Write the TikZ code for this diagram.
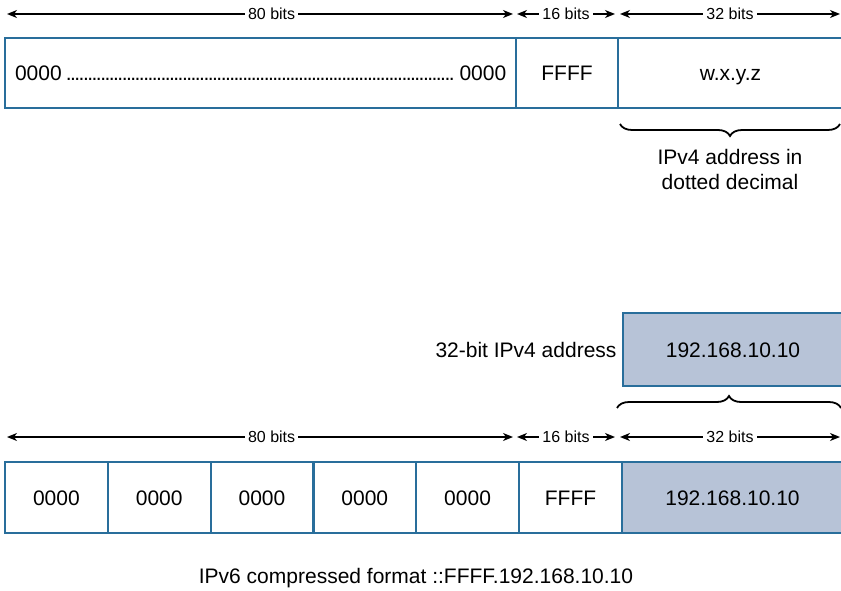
\documentclass[tikz,border=0pt]{standalone}
\usepackage{fontspec}
\setmainfont{Liberation Sans}
\usetikzlibrary{arrows.meta,positioning,decorations.pathreplacing}
\definecolor{cellblue}{RGB}{41,110,155}
\definecolor{vfourfill}{RGB}{183,195,215}
\tikzset{
  cell/.style={draw=cellblue,line width=2.2pt,minimum height=70pt,inner sep=0pt,outer sep=0pt,anchor=north west,
    text height=15pt,text depth=0pt,font=\fontsize{21}{25}\selectfont},
  dim/.style={{Stealth[length=10pt,width=8pt,inset=3pt]}-{Stealth[length=10pt,width=8pt,inset=3pt]},line width=1.5pt},
  bits/.style={fill=white,inner sep=3pt,font=\fontsize{16}{19}\selectfont},
  brc/.style={decorate,decoration={brace,amplitude=12pt},line width=1.8pt},
  txt/.style={font=\fontsize{21}{25}\selectfont}
}
\newcommand{\dotrow}{\leaders\hbox to 4.3pt{\hss.\hss}\hfill}

\begin{document}
\begin{tikzpicture}[x=1pt,y=-1pt]
  \clip (0,0) rectangle (841,591);
  % mapped address, generic form
  \node[cell,minimum width=511pt,text width=491pt] (zeros) at (5,38) {0000\,\dotrow\,0000};
  \node[cell,minimum width=102pt] (ffff) at (zeros.north east) {FFFF};
  \node[cell,minimum width=225pt] (wxyz) at (ffff.north east) {w.x.y.z};
  \foreach \y/\k in {14/t,437/b}{
    \coordinate (\k a1) at (7,\y); \coordinate (\k b1) at (513,\y);
    \coordinate (\k a2) at (517,\y); \coordinate (\k b2) at (615,\y);
    \coordinate (\k a3) at (620,\y); \coordinate (\k b3) at (840,\y);
    \draw[dim] (\k a1) -- node[bits,pos=0.523]{80 bits} (\k b1);
    \draw[dim] (\k a2) -- node[bits]{16 bits} (\k b2);
    \draw[dim] (\k a3) -- node[bits]{32 bits} (\k b3);
  }
  \coordinate (br1a) at (840,124); \coordinate (br1b) at (620,124);
  \draw[brc] (br1a) -- (br1b);
  \node[txt,align=center,anchor=north] (note) at (730,146) {IPv4 address in\\dotted decimal};

  % example with 192.168.10.10
  \node[cell,fill=vfourfill,minimum width=220pt,minimum height=73pt] (ipv4) at (623,313) {192.168.10.10};
  \node[txt,left=3pt of ipv4] (ipv4lab) {32-bit IPv4 address};
  \coordinate (br2a) at (617,408); \coordinate (br2b) at (841,408);
  \draw[brc] (br2a) -- (br2b);
  \foreach \i in {1,...,5}
    \node[cell,minimum width=102.8pt,minimum height=71pt] (z\i) at ({5+102.8*(\i-1)},462) {0000};
  \node[cell,minimum width=103pt,minimum height=71pt] (ffff2) at (z5.north east) {FFFF};
  \node[cell,fill=vfourfill,minimum width=221pt,minimum height=71pt] (ipv4b) at (ffff2.north east) {192.168.10.10};
  \node[txt] (caption) at (416,578) {IPv6 compressed format ::FFFF.192.168.10.10};
\end{tikzpicture}
\end{document}
